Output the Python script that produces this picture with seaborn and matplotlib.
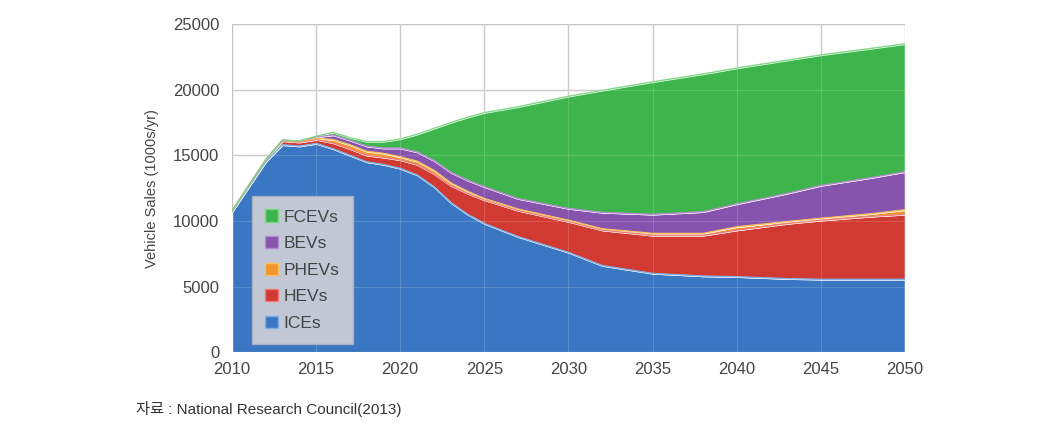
import numpy as np
import pandas as pd
import matplotlib
matplotlib.use("Agg")
import matplotlib.pyplot as plt
from matplotlib.patches import Patch
import seaborn as sns

years = [2010, 2011, 2012, 2013, 2014, 2015, 2016, 2017, 2018, 2019, 2020, 2021, 2022,
         2023, 2024, 2025, 2027, 2030, 2032, 2035, 2038, 2040, 2043, 2045, 2048, 2050]
ices = [10700, 12600, 14500, 15800, 15700, 15900, 15500, 15000, 14500, 14300, 14000, 13500, 12600,
        11400, 10500, 9800, 8800, 7600, 6600, 6000, 5800, 5750, 5600, 5550, 5550, 5550]
hevs = [50, 100, 150, 300, 300, 300, 450, 500, 500, 550, 650, 800, 1000,
        1300, 1600, 1800, 2000, 2350, 2700, 2900, 3100, 3550, 4200, 4500, 4800, 4950]
phevs = [0, 0, 0, 50, 50, 100, 250, 300, 300, 300, 230, 250, 250,
         200, 150, 100, 100, 100, 100, 150, 150, 250, 150, 150, 200, 350]
bevs = [0, 0, 0, 0, 50, 100, 350, 350, 400, 400, 670, 700, 750,
        800, 850, 900, 800, 900, 1250, 1450, 1650, 1750, 2150, 2500, 2750, 2900]
fcevs = [0, 0, 0, 0, 0, 50, 200, 200, 350, 500, 700, 1350, 2450,
         3800, 4800, 5650, 7000, 8550, 9300, 10100, 10500, 10350, 10150, 9950, 9850, 9750]

labels = ["ICEs", "HEVs", "PHEVs", "BEVs", "FCEVs"]
colors = ["#3a76c2", "#d13a32", "#f2962b", "#8654ad", "#3db54c"]
edges = ["#7fb0e8", "#f07a70", "#f7c060", "#b48ad0", "#7fd884"]

df = pd.DataFrame({"year": years, "ICEs": ices, "HEVs": hevs, "PHEVs": phevs,
                   "BEVs": bevs, "FCEVs": fcevs})

sns.set_theme(style="whitegrid")
plt.rcParams['font.family'] = ['Liberation Sans', 'DejaVu Sans']

fig = plt.figure(figsize=(10.45, 4.38), dpi=100)
ax = fig.add_axes([0.222, 0.196, 0.644, 0.749])

ax.stackplot(df["year"], [df[c] for c in labels], colors=colors, zorder=2)
# light highlight along each layer's top
tops = np.cumsum(np.array([df[c] for c in labels]), axis=0)
for i, top in enumerate(tops):
    sns.lineplot(x=df["year"], y=top, ax=ax, color=edges[i], lw=1.0, zorder=3)

ax.set_xlim(2010, 2050)
ax.set_ylim(0, 25000)
ax.set_xticks(range(2010, 2051, 5))
ax.set_yticks(range(0, 25001, 5000))
ax.grid(True, color="#c4c4c4", lw=1.0)
ax.set_axisbelow(True)
# faint grid showing through the areas, like the original
for x in range(2015, 2050, 5):
    ax.axvline(x, color="white", lw=0.8, alpha=0.15, zorder=4)
for y in range(5000, 25000, 5000):
    ax.axhline(y, color="white", lw=0.8, alpha=0.15, zorder=4)
for s in ax.spines.values():
    s.set_visible(False)
ax.tick_params(axis="y", colors="#444444", labelsize=12, length=0, pad=9)
ax.tick_params(axis="x", colors="#444444", labelsize=12, length=0, pad=7)
ax.set_xlabel("")
ax.set_ylabel("Vehicle Sales (1000s/yr)", color="#444444", fontsize=10.5, labelpad=10)

handles = [Patch(facecolor=colors[i], edgecolor=edges[i], label=labels[i]) for i in range(4, -1, -1)]
leg = ax.legend(handles=handles, loc="upper left", bbox_to_anchor=(0.038, 0.459),
                frameon=True, fontsize=12.5, handlelength=0.7, handleheight=0.7,
                handletextpad=0.35, labelspacing=0.66, borderpad=0.45, borderaxespad=0)
leg.get_frame().set_facecolor("#c9ccd6")
leg.get_frame().set_edgecolor("#aab0c0")
leg.get_frame().set_alpha(0.95)
leg.get_frame().set_boxstyle("square")
for t in leg.get_texts():
    t.set_color("#444444")

fig.text(0.13, 0.055, "자료 : National Research Council(2013)", fontsize=11,
         color="#333333", family=['Liberation Sans', 'Noto Sans CJK KR'])

fig.savefig("out.png", dpi=100)
